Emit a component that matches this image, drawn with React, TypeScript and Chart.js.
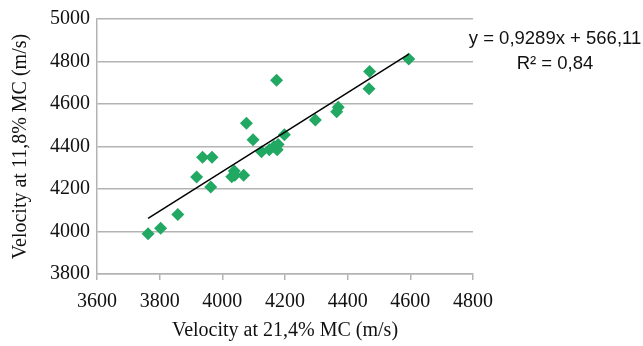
import { useEffect, useRef } from "react";
import { Chart, registerables } from "chart.js";

Chart.register(...registerables);

// Velocity at 21,4% MC (x) and at 11,8% MC (y), m/s
const velocityAt214 = [
  3763, 3803, 3858, 3918, 3937, 3967, 3963, 4030, 4038, 4040, 4068, 4077, 4098,
  4125, 4150, 4165, 4175, 4178, 4173, 4198, 4297, 4365, 4370, 4468, 4470, 4595,
];
const velocityAt118 = [
  3990, 4015, 4080, 4257, 4350, 4350, 4210, 4258, 4285, 4265, 4265, 4510, 4432,
  4375, 4385, 4400, 4385, 4410, 4712, 4455, 4525, 4563, 4585, 4672, 4753, 4812,
];

const trendSlope = 0.9289;
const trendIntercept = 566.11;
const equationLabel = "y = 0,9289x + 566,11";
const r2Label = "R² = 0,84";

const xTitle = "Velocity at 21,4% MC (m/s)";
const yTitle = "Velocity at 11,8% MC (m/s)";
const xRange = [3600, 4800];
const yRange = [3800, 5000];
const tickStep = 200;

const GREEN = "#21a863";
const GRID = "#b3b3b3";

export default function App() {
  const ref = useRef<HTMLCanvasElement | null>(null);

  useEffect(() => {
    if (!ref.current) return;
    const points = velocityAt214.map((x, i) => ({ x, y: velocityAt118[i] }));
    const xMin = Math.min(...velocityAt214);
    const xMax = Math.max(...velocityAt214);
    const trend = [xMin, xMax].map((x) => ({ x, y: trendSlope * x + trendIntercept }));

    const labelPlugin = {
      id: "trendLabel",
      afterDraw(chart: any) {
        const ctx = chart.ctx;
        ctx.save();
        ctx.fillStyle = "#111";
        ctx.font = "18.5px 'Liberation Sans', Arial, sans-serif";
        ctx.textAlign = "center";
        ctx.textBaseline = "middle";
        ctx.fillText(equationLabel, 555, 39);
        ctx.fillText(r2Label, 555, 64);
        ctx.restore();
      },
    };

    const serif = "'Liberation Serif', 'Times New Roman', serif";
    const plain = (v: any) => String(v);

    const chart = new Chart(ref.current, {
      type: "scatter",
      data: {
        datasets: [
          {
            type: "scatter",
            data: points,
            pointStyle: "rectRot",
            pointRadius: 6.5,
            backgroundColor: GREEN,
            borderColor: GREEN,
            borderWidth: 0,
            order: 2,
          },
          {
            type: "line",
            data: trend,
            borderColor: "#000",
            borderWidth: 1.5,
            pointRadius: 0,
            fill: false,
            order: 1,
          } as any,
        ],
      },
      options: {
        responsive: false,
        animation: false,
        layout: { padding: { top: 16, right: 170, left: 0, bottom: 0 } },
        plugins: {
          legend: { display: false },
          tooltip: { enabled: false },
        },
        scales: {
          x: {
            type: "linear",
            min: xRange[0],
            max: xRange[1],
            ticks: {
              stepSize: tickStep,
              color: "#111",
              font: { family: serif, size: 20 },
              padding: 10,
              callback: plain,
            },
            grid: {
              drawOnChartArea: false,
              drawTicks: true,
              tickLength: 6,
              color: GRID,
              lineWidth: 1.5,
            },
            border: { display: true, color: GRID, width: 1.5 },
            title: {
              display: true,
              text: xTitle,
              color: "#111",
              font: { family: serif, size: 20 },
              padding: { top: 4, bottom: 3 },
            },
            afterFit(scale: any) {
              scale.height = 72;
            },
          },
          y: {
            type: "linear",
            min: yRange[0],
            max: yRange[1],
            ticks: {
              stepSize: tickStep,
              color: "#111",
              font: { family: serif, size: 20 },
              padding: 7,
              callback: plain,
            },
            grid: {
              drawTicks: false,
              color: GRID,
              lineWidth: 1.5,
            },
            border: { display: true, color: GRID, width: 1.5 },
            title: {
              display: true,
              text: yTitle,
              color: "#111",
              font: { family: serif, size: 20 },
              padding: { top: 9, bottom: 9 },
            },
            afterFit(scale: any) {
              scale.width = 97;
            },
          },
        },
      },
      plugins: [labelPlugin],
    });
    return () => chart.destroy();
  }, []);

  return (
    <div style={{ position: "fixed", left: 0, top: 0, width: 643, height: 346, background: "#fff" }}>
      <canvas ref={ref} width={643} height={346} style={{ width: 643, height: 346 }} />
    </div>
  );
}
